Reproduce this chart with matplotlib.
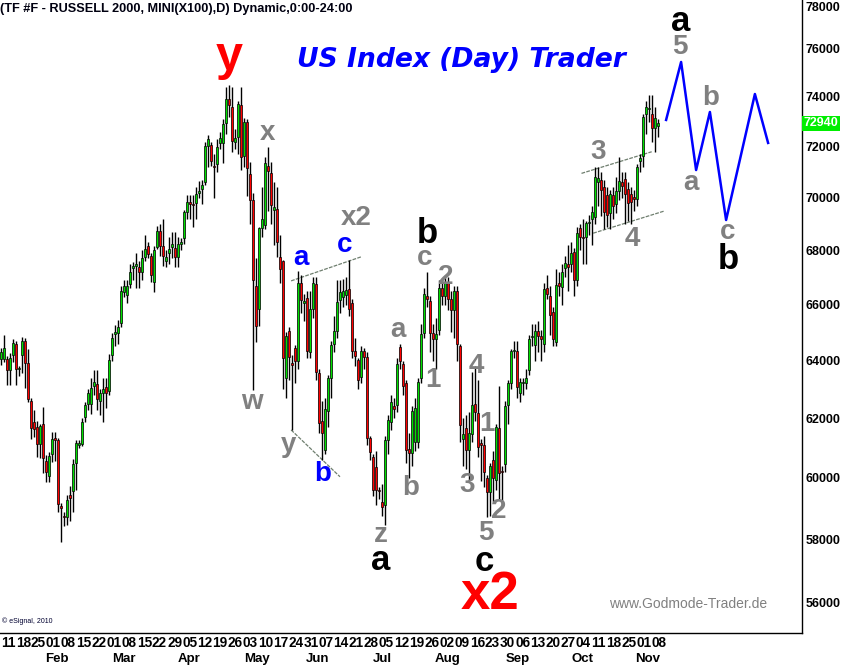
import numpy as np
import matplotlib
matplotlib.use('Agg')
import matplotlib.pyplot as plt
import matplotlib.transforms as mtransforms
from matplotlib.ticker import FixedLocator, NullLocator

plt.rcParams['font.family'] = ['Liberation Sans', 'DejaVu Sans']

# Daily OHLC in index points (chart shows x100)
opens = [
    640.5, 640.5, 640.5, 636.8, 642, 646, 637, 642, 647, 639,
    626, 618.6, 617, 611.3, 618, 605.7, 600.7, 608, 613.3, 612.7,
    590.7, 587.5, 587.2, 594.4, 595.7, 605, 611, 611.3, 620.4, 624.7,
    625, 631, 631.7, 625.9, 628.8, 630.6, 629.3, 641.9, 649.3, 649.7,
    653.4, 664.6, 663.7, 667.4, 673.4, 674.2, 673.8, 672, 677.6, 681.7,
    678, 668.4, 681.3, 687.4, 681.7, 676, 679, 681.2, 681, 677.6,
    682.6, 684.7, 694.5, 698.3, 697.8, 698, 701.7, 703.3, 706.3, 720.4,
    720.7, 712.3, 713, 721.6, 721.6, 729.3, 739.2, 736, 722, 724,
    736.8, 716.3, 730, 709.3, 699, 667, 658.6, 688.6, 689.6, 712.2,
    709.7, 695.5, 695.8, 677.5, 676, 634, 650.4, 639, 644.5, 639.8,
    668, 660.6, 662.6, 642.9, 658.6, 667.6, 635.6, 619, 609.2, 622.4,
    634, 645.8, 650.4, 661.7, 662.7, 663.5, 665.8, 660.7, 643.3, 640.3,
    634.2, 643.3, 641.2, 613.2, 606.9, 603.6, 595.8, 592, 591, 612.6,
    618.7, 624, 624.6, 644.9, 638.6, 632.2, 609.6, 608.1, 611.9, 611.9,
    633.8, 649.6, 663.3, 661.4, 649.6, 647.8, 651, 666, 663, 668.4,
    662, 658, 665, 645, 613, 616.5, 609.2, 614.5, 625, 621.7,
    611.5, 611, 600, 595.4, 606, 599.3, 616.5, 602, 604.7, 624.6,
    632.2, 643.3, 643.3, 628.7, 632, 632, 636.6, 648.4, 645.4, 650.4,
    648.7, 646, 666, 663, 657.3, 646.6, 668, 666.4, 673.6, 675,
    674.8, 679.3, 669, 688.4, 685, 685.2, 690.5, 692, 692.5, 706,
    707, 704, 701, 694, 701, 697.5, 702.6, 706, 707.3, 703.6,
    701.5, 700.5, 699.6, 714.5, 716.3, 733, 735.2, 733, 727.5, 728.4,
]
highs = [
    644.5, 649, 641.5, 642.5, 647.5, 647, 638, 648.5, 648, 644,
    627, 622.7, 619, 618, 623.7, 607.7, 608.7, 615.3, 615.3, 613.2,
    591.7, 588.7, 594.2, 597.3, 606.2, 612.5, 612.5, 620, 625.6, 630,
    633.7, 636.6, 636.6, 630, 634, 634, 642.3, 649.8, 652.8, 654.3,
    667, 669, 669, 675, 675.6, 679, 676, 680, 686, 683,
    679, 681.7, 689.4, 690, 692, 680, 685, 687, 687, 685,
    684.5, 695.5, 701, 701, 701, 704, 706.5, 707, 722, 724.5,
    722, 717, 723, 726, 731, 744, 745, 744, 727, 738.5,
    744, 731.5, 731, 714, 702, 677, 689, 704, 716, 720,
    714, 706, 704, 686, 676.5, 650, 652, 642, 645.5, 672.5,
    671, 664, 665, 665, 670, 670, 637, 626, 627, 635,
    647, 656, 669, 669, 669.5, 670, 676.5, 662, 648, 641,
    645, 644.5, 643, 614, 608, 609, 597, 598, 614, 621,
    628, 627, 641, 646, 640, 633, 615, 624, 627, 634,
    653, 666, 672, 663, 653, 655, 669, 668, 670, 670,
    665, 667, 667, 646, 620, 621, 622, 636, 638, 633,
    613, 614, 601, 605, 609, 618, 631, 604, 626, 633,
    644, 647, 647, 634, 634, 637, 649, 653, 653, 654,
    651, 668, 671, 667, 659, 673, 672, 675, 678, 682,
    683, 681, 689, 690, 692, 691, 693.5, 697, 712, 712,
    710, 707, 704, 703, 704, 708, 716, 710, 710, 706,
    704, 703, 713, 717, 733, 738.5, 741, 741, 736, 731,
]
lows = [
    638.5, 639.5, 631.5, 631.5, 639.5, 631.5, 634.5, 635.5, 630.5, 625.5,
    613, 613.6, 607, 606.5, 601.7, 598.7, 598.7, 605.3, 605.7, 588.7,
    579, 584.2, 584.7, 585.7, 588.7, 596, 610, 610.5, 618.6, 622.7,
    621.5, 628, 622.7, 621, 618.6, 623.6, 627.8, 639.8, 645.3, 645.8,
    652, 662.7, 660.5, 666, 669, 666, 666, 669, 676, 677,
    668.4, 664.6, 680.5, 678, 674.2, 674, 675, 677, 674, 674,
    680, 682.5, 692, 692, 689, 692, 700, 697.5, 705, 712,
    712.5, 700, 710, 719, 713.7, 725, 732, 718, 719, 717,
    711, 712, 700.7, 690, 629.8, 646.5, 652.4, 685, 688, 695,
    690, 682, 677.6, 668, 630, 627, 633, 616, 632, 637,
    657, 654, 641, 641, 655, 633, 615, 606, 608, 617,
    627, 643, 648, 657, 659, 660, 656, 641, 638, 630,
    632, 637, 611, 606, 594, 591, 593, 587.6, 584.5, 608,
    616, 620, 622, 637, 628, 605, 600, 604, 609, 610,
    632, 648, 659, 643, 640, 637, 649, 660, 660, 658,
    650, 648, 640, 612, 604, 603, 599, 612, 619, 607,
    599, 597, 587, 587.6, 592, 596, 593, 591, 602, 618,
    630, 641, 627, 625.5, 628, 630, 635, 645, 640, 643,
    640, 643, 662, 649, 645, 645, 663, 660, 670, 665,
    672, 663, 667, 680, 675, 675, 686, 682, 690, 697,
    693, 688, 689, 688, 692, 694, 699, 700, 690, 691,
    690, 695, 697, 710, 712, 725, 730, 722, 718, 724,
]
closes = [
    643, 644.5, 636.5, 641, 646.3, 637, 637.3, 647, 639, 626.5,
    616.7, 616.4, 611.3, 617.3, 606.7, 602, 607.2, 613, 612.7, 591.4,
    590.2, 587.1, 592.7, 593.4, 604.7, 611.6, 611.6, 618.6, 624.5, 628.8,
    630.5, 632.4, 626.6, 628.8, 630, 628.8, 640.3, 647.9, 650.1, 651.8,
    665, 666.7, 666.7, 672, 674.2, 675, 672, 677, 680.6, 678.8,
    671, 680.2, 687.4, 681.7, 678, 677.6, 680.6, 682.5, 677.6, 682.5,
    683, 694.5, 698.3, 697.6, 697.2, 701.3, 702.5, 704.8, 720.4, 723,
    714.5, 711.8, 720, 723.5, 729, 739, 736.7, 722.3, 723.5, 737,
    716, 730, 711.6, 699, 669, 652.4, 688.4, 692, 713.7, 710.4,
    697.4, 696.3, 683.3, 673, 640.8, 648.6, 641.2, 638.3, 639.8, 668,
    661.7, 661.3, 643.3, 658.3, 668, 636, 618.4, 615, 623, 633.8,
    645.4, 650.4, 661.1, 664.6, 665, 665.3, 658.6, 643.3, 641.6, 633.2,
    643.3, 641.2, 613.2, 608.5, 596, 596, 595.5, 590.4, 612.6, 619.4,
    625.6, 623, 638.6, 640, 631, 609.2, 608.2, 622.4, 623.4, 632.5,
    649.3, 663.9, 662.2, 649.6, 647.8, 649.5, 666, 663, 668.4, 662,
    658, 665, 646, 617.7, 614.5, 609.2, 615, 624.6, 622, 610.3,
    610.8, 602, 595.4, 604, 600, 617, 601.6, 601.8, 624, 632,
    643.3, 643.4, 630.7, 632.5, 632.4, 634, 647.8, 648.8, 650.4, 648.7,
    647.6, 665.8, 664, 656.1, 647.6, 667.2, 666.7, 672, 675.5, 674,
    679, 669, 686.6, 685, 684.6, 690.2, 690.8, 694.5, 708, 707.5,
    703, 694.5, 693.4, 701.5, 697, 702.5, 706.4, 704.5, 701.6, 698,
    698.5, 699.6, 712, 715.6, 732, 736, 735.4, 727.5, 731.6, 729.4,
]

week_labels = ['11', '18', '25', '01', '08', '15', '22', '01', '08', '15', '22', '29',
               '05', '12', '19', '26', '03', '10', '17', '24', '31', '07', '14', '21',
               '28', '05', '12', '19', '26', '02', '09', '16', '23', '30', '06', '13',
               '20', '27', '04', '11', '18', '25', '01', '08']
week_bars = [2.3, 7.4, 12.4, 17.5, 22.5, 27.6, 32.6, 37.7, 42.7, 47.8, 52.8, 57.9,
             62.9, 68.0, 73.0, 78.0, 83.1, 88.1, 93.2, 98.2, 103.3, 108.3, 113.4,
             118.4, 123.5, 128.5, 133.6, 138.6, 143.6, 148.7, 153.7, 158.8, 163.8,
             168.9, 173.9, 179.0, 184.0, 189.1, 194.1, 199.2, 204.2, 209.3, 214.3,
             219.3]
months = ['Feb', 'Mar', 'Apr', 'May', 'Jun', 'Jul', 'Aug', 'Sep', 'Oct', 'Nov']
month_bars = [18.7, 41, 62.7, 85.3, 105.7, 127, 149, 172.3, 194, 215.7]

price_ticks = list(range(56000, 80000, 2000))

# projected wave path (bar index, index points)
proj_x = [221.7, 226.7, 231.7, 236.3, 241.7, 251.3, 255.7]
proj_y = [730.7, 754.4, 710.8, 733.9, 691.5, 741.2, 721.5]

# trend lines: (x0, y0, x1, y1)
trend_lines = [
    (96.7, 668.7, 120.0, 677.6),
    (96.7, 616.0, 113.0, 600.3),
    (193.5, 709.5, 216.9, 718.0),
    (197.4, 686.5, 221.0, 694.9),
]

last_price = 72940

RED, BLUE, GRAY, BLACK = '#ff0000', '#0000ff', '#808080', '#000000'
# wave labels: text, bar index, price, colour, size
wave_labels = [
    ('y', 76.0, 756.1, RED, 35), ('x2', 163.0, 562.5, RED, 38),
    ('x', 89.0, 725.5, GRAY, 20), ('w', 83.7, 625.6, GRAY, 20),
    ('a', 100.0, 677.2, BLUE, 20), ('c', 114.7, 682.1, BLUE, 20),
    ('b', 107.3, 601.3, BLUE, 20), ('x2', 118.3, 692.3, GRAY, 20),
    ('y', 96.0, 610.9, GRAY, 20), ('z', 126.7, 581.4, GRAY, 20),
    ('a', 126.7, 573.4, BLACK, 25), ('a', 132.3, 650.9, GRAY, 20),
    ('b', 142.0, 686.2, BLACK, 25), ('c', 141.3, 677.2, GRAY, 20),
    ('2', 148.3, 670.1, GRAY, 20), ('1', 144.0, 633.2, GRAY, 20),
    ('b', 136.7, 596.7, GRAY, 20), ('4', 158.3, 638.1, GRAY, 20),
    ('1', 162.0, 618.1, GRAY, 20), ('3', 155.3, 597.6, GRAY, 20),
    ('5', 161.7, 582.0, GRAY, 20), ('2', 166.0, 589.1, GRAY, 20),
    ('c', 161.0, 572.8, BLACK, 25), ('3', 199.0, 717.9, GRAY, 20),
    ('4', 210.3, 684.4, GRAY, 20), ('a', 226.7, 771.2, BLACK, 25),
    ('5', 226.3, 760.7, GRAY, 20), ('b', 236.7, 739.6, GRAY, 20),
    ('a', 230.0, 705.7, GRAY, 20), ('c', 242.3, 686.9, GRAY, 20),
    ('b', 242.3, 676.5, BLACK, 25),
]

o = np.array(opens) * 100
h = np.array(highs) * 100
l = np.array(lows) * 100
c = np.array(closes) * 100
x = np.arange(len(c))

fig = plt.figure(figsize=(8.42, 6.65), dpi=100)
ax = fig.add_axes([0, 32 / 665, 802 / 842, 633 / 665])

ax.vlines(x, l, h, color='black', lw=1.0, zorder=2)
up = c >= o
bottom = np.minimum(o, c)
height = np.maximum(np.abs(c - o), 25)
ax.bar(x[up], height[up], bottom=bottom[up], width=0.95, color='#00e000',
       edgecolor='black', lw=0.5, zorder=3)
ax.bar(x[~up], height[~up], bottom=bottom[~up], width=0.95, color='#ff0000',
       edgecolor='black', lw=0.5, zorder=3)

ax.plot(proj_x, np.array(proj_y) * 100, color='#0000ff', lw=1.8, zorder=4)
for x0, y0, x1, y1 in trend_lines:
    ax.plot([x0, x1], [y0 * 100, y1 * 100], color='#6f7f6f', lw=0.9,
            ls=(0, (3, 1)), zorder=1)

for txt, bx, py, col, size in wave_labels:
    ax.text(bx, py * 100, txt, color=col, fontsize=size, fontweight='bold',
            ha='center', va='center', zorder=5)

ax.set_yscale('log')
ax.set_xlim(-0.33, 267)
ax.set_ylim(55080, 78060)
# the top label (78000) sits at the very edge, so it is drawn separately below
ax.yaxis.set_major_locator(FixedLocator(price_ticks[:-1]))
ax.yaxis.set_minor_locator(NullLocator())
ax.set_yticklabels([str(v) for v in price_ticks[:-1]])
ax.yaxis.tick_right()
ax.tick_params(axis='y', length=0, pad=2.5, labelsize=9)
for t in ax.get_yticklabels():
    t.set_fontweight('bold')
fig.text(805 / 842, 1 - 8 / 665, str(price_ticks[-1]), fontsize=9,
         fontweight='bold', ha='left', va='center')

ax.set_xticks(week_bars)
ax.set_xticklabels(week_labels)
ax.tick_params(axis='x', length=0, pad=2, labelsize=9.8)
for t in ax.get_xticklabels():
    t.set_fontweight('bold')

for name, pos in zip(months, month_bars):
    ax.annotate(name, xy=(pos, 0), xycoords=('data', 'axes fraction'),
                xytext=(0, -19), textcoords='offset points', ha='center',
                va='center', fontsize=9.5, fontweight='bold', annotation_clip=False)

for side in ['top', 'left']:
    ax.spines[side].set_visible(False)
for side in ['right', 'bottom']:
    ax.spines[side].set_linewidth(1.0)

blend = mtransforms.blended_transform_factory(ax.transAxes, ax.transData)
ax.text(1.002, last_price, str(last_price), transform=blend, color='white',
        fontsize=9, fontweight='bold', ha='left', va='center', zorder=6,
        bbox=dict(boxstyle='square,pad=0.12', fc='#00ee00', ec='none'))

fig.text(0.0, 1 - 9 / 665, '(TF #F - RUSSELL 2000, MINI(X100),D) Dynamic,0:00-24:00',
         fontsize=9.2, fontweight='bold', ha='left', va='center', color='#000010')
fig.text(461 / 842, 1 - 60 / 665, 'US Index (Day) Trader', family='DejaVu Sans',
         fontsize=19.2, fontweight='bold', style='italic', color='#0000ff',
         ha='center', va='center')
fig.text(688 / 842, 1 - 604 / 665, 'www.Godmode-Trader.de', fontsize=10,
         color='#808080', ha='center', va='center')
fig.text(2 / 842, 1 - 621 / 665, '\u00a9 eSignal, 2010', fontsize=5,
         color='#000030', ha='left', va='center')

fig.savefig('out.png', dpi=100)
